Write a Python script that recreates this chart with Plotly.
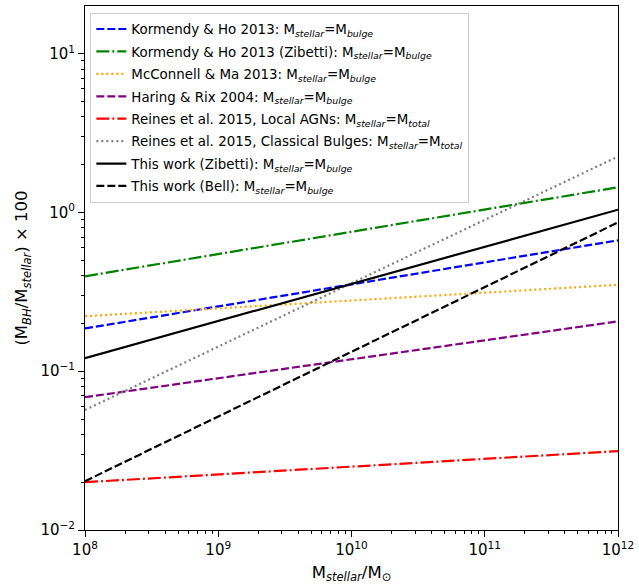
import plotly.graph_objects as go

# Data: endpoints of each power-law relation (x = M_stellar / M_sun, y = (M_BH/M_stellar) x 100)
x_mass = [1e8, 1e12]
kh13 = [0.186, 0.667]
kh13_zib = [0.396, 1.44]
mm13 = [0.222, 0.350]
hr04 = [0.0686, 0.206]
reines_agn = [0.0200, 0.0314]
reines_cb = [0.057, 2.25]
this_zib = [0.121, 1.04]
this_bell = [0.0203, 0.865]

S = "M<sub><i>stellar</i></sub>"
series = [
    ("Kormendy & Ho 2013: " + S + "=M<sub><i>bulge</i></sub>", kh13, "blue", "8px,3px"),
    ("Kormendy & Ho 2013 (Zibetti): " + S + "=M<sub><i>bulge</i></sub>", kh13_zib, "green", "13px,3px,2px,3px"),
    ("McConnell & Ma 2013: " + S + "=M<sub><i>bulge</i></sub>", mm13, "orange", "2px,3px"),
    ("Haring & Rix 2004: " + S + "=M<sub><i>bulge</i></sub>", hr04, "purple", "8px,3px"),
    ("Reines et al. 2015, Local AGNs: " + S + "=M<sub><i>total</i></sub>", reines_agn, "red", "13px,3px,2px,3px"),
    ("Reines et al. 2015, Classical Bulges: " + S + "=M<sub><i>total</i></sub>", reines_cb, "gray", "2px,3px"),
    ("This work (Zibetti): " + S + "=M<sub><i>bulge</i></sub>", this_zib, "black", "solid"),
    ("This work (Bell): " + S + "=M<sub><i>bulge</i></sub>", this_bell, "black", "8px,3px"),
]

fig = go.Figure()
for i, (name, ys, col, dash) in enumerate(series):
    fig.add_trace(go.Scatter(x=x_mass, y=ys, mode="lines", name=name, legendgroup=f"g{i}",
                             line=dict(color=col, width=2.2, dash=dash)))

x_ticks = [1e8, 1e9, 1e10, 1e11, 1e12]
x_ticktext = ["10<sup>8</sup>", "10<sup>9</sup>", "10<sup>10</sup>", "10<sup>11</sup>", "10<sup>12</sup>"]
y_ticks = [1e-2, 1e-1, 1, 10]
y_ticktext = ["10<sup>−2</sup>", "10<sup>−1</sup>", "10<sup>0</sup>", "10<sup>1</sup>"]

def minors(lo, hi):
    out = []
    for e in range(lo, hi + 1):
        for m in range(2, 10):
            out.append(m * 10 ** e)
    return out

font = "DejaVu Sans"
fig.update_layout(
    width=639, height=584,
    margin=dict(l=85, r=18, t=5, b=54),
    plot_bgcolor="white", paper_bgcolor="white",
    font=dict(family=font, size=14, color="black"),
    showlegend=True,
    legend=dict(x=0.01, y=0.987, xanchor="left", yanchor="top", tracegroupgap=2,
                bgcolor="rgba(255,255,255,0.8)", bordercolor="#cccccc", borderwidth=1,
                font=dict(size=13.4, family=font)),
)
fig.update_xaxes(type="log", range=[8, 12], tickvals=x_ticks, ticktext=x_ticktext,
                 ticks="outside", ticklen=6, tickwidth=1, tickcolor="black",
                 showline=True, linecolor="black", linewidth=1, mirror=True,
                 showgrid=False, zeroline=False, tickfont=dict(size=15),
                 minor=dict(tickvals=[v for v in minors(8, 11) if v <= 1e12], ticks="outside", ticklen=3, tickcolor="black", showgrid=False),
                 title=dict(text="M<sub><i>stellar</i></sub>/M<sub>⊙</sub>", font=dict(size=16.5), standoff=8))
fig.update_yaxes(type="log", range=[-2, 1.3], tickvals=y_ticks, ticktext=y_ticktext,
                 ticks="outside", ticklen=6, tickwidth=1, tickcolor="black",
                 showline=True, linecolor="black", linewidth=1, mirror=True,
                 showgrid=False, zeroline=False, tickfont=dict(size=15),
                 minor=dict(tickvals=[v for v in minors(-2, 1) if v <= 20], ticks="outside", ticklen=3, tickcolor="black", showgrid=False),
                 title=dict(text="(M<sub><i>BH</i></sub>/M<sub><i>stellar</i></sub>) × 100", font=dict(size=16.5), standoff=8))

fig.write_html("out.html")
